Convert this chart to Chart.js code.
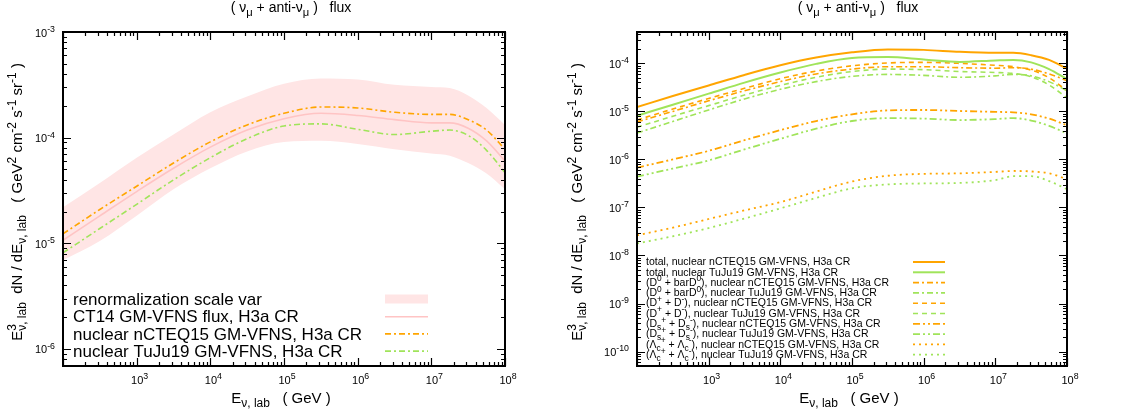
<!DOCTYPE html>
<html><head><meta charset="utf-8">
<script src="https://cdn.jsdelivr.net/npm/chart.js@4.4.1/dist/chart.umd.min.js"></script>
<style>
html,body{margin:0;padding:0;background:#fff;}
#wrap{position:relative;width:1125px;height:420px;overflow:hidden;}
canvas{position:absolute;top:0;}
</style></head><body>
<div id="wrap">
<canvas id="c1" width="560" height="420" style="left:0px"></canvas>
<canvas id="c2" width="565" height="420" style="left:560px"></canvas>
</div>
<script>
// ---------------- data ----------------
const energies = [1e2, 3.16e2, 1e3, 3.16e3, 1e4, 3.16e4, 1e5, 3.16e5, 1e6, 3.16e6, 1e7, 1.78e7, 3.16e7, 5.62e7, 1e8];

// left panel
const bandUpper  = [2.19e-5, 3.72e-5, 6.46e-5, 1.07e-4, 1.74e-4, 2.45e-4, 3.24e-4, 3.63e-4, 3.55e-4, 3.16e-4, 3.02e-4, 2.95e-4, 2.51e-4, 1.91e-4, 1.32e-4];
const bandLower  = [6.92e-6, 1.05e-5, 1.82e-5, 3.24e-5, 5.13e-5, 7.41e-5, 9.12e-5, 9.33e-5, 8.71e-5, 7.76e-5, 7.08e-5, 6.76e-5, 5.75e-5, 4.57e-5, 3.24e-5];
const ct14Central = [1.07e-5, 1.82e-5, 3.09e-5, 5.13e-5, 8.13e-5, 1.18e-4, 1.51e-4, 1.70e-4, 1.62e-4, 1.48e-4, 1.38e-4, 1.38e-4, 1.23e-4, 9.33e-5, 6.03e-5];
const totalNCTEQ15 = [1.23e-5, 2.09e-5, 3.47e-5, 5.75e-5, 9.12e-5, 1.32e-4, 1.70e-4, 1.95e-4, 1.91e-4, 1.74e-4, 1.66e-4, 1.66e-4, 1.48e-4, 1.18e-4, 7.76e-5];
const totalTuJu19  = [8.13e-6, 1.38e-5, 2.34e-5, 3.98e-5, 6.46e-5, 9.77e-5, 1.29e-4, 1.35e-4, 1.20e-4, 1.07e-4, 1.15e-4, 1.18e-4, 1.05e-4, 7.59e-5, 4.68e-5];

// right panel components
const d0NCTEQ15 = [6.03e-6, 1.00e-5, 1.66e-5, 2.69e-5, 4.17e-5, 6.03e-5, 7.59e-5, 8.51e-5, 8.51e-5, 8.13e-5, 7.94e-5, 8.13e-5, 7.59e-5, 6.03e-5, 4.37e-5];
const d0TuJu19  = [3.55e-6, 6.17e-6, 1.07e-5, 1.82e-5, 2.88e-5, 4.17e-5, 5.37e-5, 5.89e-5, 5.62e-5, 5.13e-5, 5.50e-5, 5.89e-5, 5.50e-5, 4.17e-5, 2.69e-5];
const dpNCTEQ15 = [6.61e-6, 1.12e-5, 1.86e-5, 3.02e-5, 4.79e-5, 6.92e-5, 8.91e-5, 1.02e-4, 1.05e-4, 1.00e-4, 9.12e-5, 8.51e-5, 7.24e-5, 5.01e-5, 2.69e-5];
const dpTuJu19  = [4.68e-6, 7.94e-6, 1.32e-5, 2.19e-5, 3.47e-5, 5.13e-5, 6.76e-5, 7.59e-5, 7.41e-5, 6.76e-5, 6.46e-5, 6.17e-5, 5.25e-5, 3.55e-5, 1.91e-5];
const dsNCTEQ15 = [6.76e-7, 1.00e-6, 1.51e-6, 2.51e-6, 4.07e-6, 6.31e-6, 8.71e-6, 1.05e-5, 1.07e-5, 1.02e-5, 9.77e-6, 9.55e-6, 8.71e-6, 7.08e-6, 5.13e-6];
const dsTuJu19  = [4.37e-7, 6.46e-7, 9.55e-7, 1.62e-6, 2.69e-6, 4.37e-6, 6.31e-6, 7.24e-6, 7.08e-6, 6.61e-6, 6.92e-6, 7.24e-6, 6.46e-6, 5.01e-6, 3.47e-6];
const lcNCTEQ15 = [2.63e-8, 3.80e-8, 5.75e-8, 8.71e-8, 1.29e-7, 2.14e-7, 3.47e-7, 4.57e-7, 5.01e-7, 5.13e-7, 5.50e-7, 5.75e-7, 5.62e-7, 5.13e-7, 3.89e-7];
const lcTuJu19  = [1.78e-8, 2.51e-8, 3.72e-8, 5.89e-8, 9.55e-8, 1.58e-7, 2.51e-7, 3.02e-7, 3.16e-7, 3.24e-7, 3.72e-7, 4.47e-7, 4.47e-7, 3.55e-7, 2.40e-7];

// axis ranges and texts
const xRange = [1e2, 1e8];
const xLabelled = [1e3, 1e4, 1e5, 1e6, 1e7, 1e8];
const yRangeLeft = [6.9e-7, 1e-3];
const yRangeRight = [5e-11, 4.5e-4];
const titleText = '( ν_μ + anti-ν_μ )   flux';
const xTitleText = 'E_{ν, lab}   ( GeV )';
const yTitleText = 'E@^3_{ν, lab}  dN / dE_{ν, lab}   ( GeV^2 cm^{-2} s^{-1} sr^{-1} )';

// ---------------- styles ----------------
const ORANGE = '#ffa500';
const GREEN = '#a0e45a';
const PINK = '#ffc4c4';
const BAND = '#ffe5e5';
const DASHDOT = [6, 3, 2, 3];
const DASHED = [5, 4];
const DASHDOTDOT = [7, 3, 2, 3, 2, 3];
const DOTTED = [2, 4];
const FONT = "'Liberation Sans', Arial, Helvetica, sans-serif";

const pts = arr => energies.map((e, i) => ({x: e, y: arr[i]}));

// ---------------- rich text (gnuplot-like ^ _ @) ----------------
function parseRich(s) {
  const parts = []; let buf = ''; let i = 0; let stack = false;
  const flush = () => { if (buf) { parts.push({t: buf, k: 'n'}); buf = ''; } };
  while (i < s.length) {
    const c = s[i];
    if (c === '@') { flush(); stack = true; i++; continue; }
    if (c === '^' || c === '_') {
      flush(); let t;
      if (s[i + 1] === '{') { const j = s.indexOf('}', i + 2); t = s.slice(i + 2, j); i = j + 1; }
      else { t = s[i + 1]; i += 2; }
      parts.push({t, k: c === '^' ? 'sup' : 'sub', stack}); stack = false; continue;
    }
    buf += c; i++;
  }
  flush(); return parts;
}
function drawRich(ctx, str, x, y, size, align) {
  const parts = parseRich(str);
  let cx = 0, pendW = 0, hasPend = false;
  const placed = [];
  for (const p of parts) {
    const s = p.k === 'n' ? size : size * 0.8;
    ctx.font = s + 'px ' + FONT;
    const w = ctx.measureText(p.t).width;
    const dy = p.k === 'sup' ? -size * 0.42 : (p.k === 'sub' ? size * 0.28 : 0);
    if (p.stack) { placed.push({t: p.t, s, x: cx, dy}); pendW = w; hasPend = true; continue; }
    placed.push({t: p.t, s, x: cx, dy});
    if (hasPend) { cx += Math.max(pendW, w); hasPend = false; } else cx += w;
  }
  if (hasPend) cx += pendW;
  const x0 = align === 'center' ? x - cx / 2 : (align === 'right' ? x - cx : x);
  ctx.textAlign = 'left'; ctx.textBaseline = 'alphabetic';
  for (const p of placed) { ctx.font = p.s + 'px ' + FONT; ctx.fillText(p.t, x0 + p.x, y + p.dy); }
}

// ---------------- gnuplot-like frame plugin ----------------
function logTicks(min, max) {
  const out = [];
  for (let e = Math.floor(Math.log10(min)); e <= Math.ceil(Math.log10(max)); e++) {
    for (let m = 1; m <= 9; m++) {
      const v = m * Math.pow(10, e);
      if (v >= min * 0.999 && v <= max * 1.001) out.push({v, e, major: m === 1});
    }
  }
  return out;
}
const gpPlugin = {
  id: 'gp',
  afterDraw(chart, args, o) {
    const ctx = chart.ctx, a = chart.chartArea, xs = chart.scales.x, ys = chart.scales.y;
    ctx.save();
    ctx.setLineDash([]);
    ctx.strokeStyle = '#000'; ctx.lineWidth = 1.2;
    ctx.beginPath();
    const xt = logTicks(xs.min, xs.max), yt = logTicks(ys.min, ys.max);
    for (const t of xt) {
      const p = Math.round(xs.getPixelForValue(t.v)) + 0.5, L = t.major ? 8 : 4;
      ctx.moveTo(p, a.bottom); ctx.lineTo(p, a.bottom - L);
      ctx.moveTo(p, a.top); ctx.lineTo(p, a.top + L);
    }
    for (const t of yt) {
      const p = Math.round(ys.getPixelForValue(t.v)) + 0.5, L = t.major ? 8 : 4;
      ctx.moveTo(a.left, p); ctx.lineTo(a.left + L, p);
      ctx.moveTo(a.right, p); ctx.lineTo(a.right - L, p);
    }
    ctx.stroke();
    ctx.lineWidth = 2;
    ctx.strokeRect(a.left, a.top, a.right - a.left, a.bottom - a.top);
    ctx.fillStyle = '#000';
    for (const v of xLabelled) drawRich(ctx, '10^{' + Math.round(Math.log10(v)) + '}', xs.getPixelForValue(v) + 3, a.bottom + 18, 11, 'center');
    for (const t of yt) if (t.major) drawRich(ctx, '10^{' + t.e + '}', a.left - 8, ys.getPixelForValue(t.v) + 4.5, 11, 'right');
    drawRich(ctx, titleText, o.titleX, o.titleY, 14, 'center');
    drawRich(ctx, xTitleText, o.xTitleX, o.xTitleY, 15, 'center');
    ctx.save(); ctx.translate(o.yTitleX, o.yTitleY); ctx.rotate(-Math.PI / 2);
    drawRich(ctx, yTitleText, 0, 0, 15, 'center'); ctx.restore();
    // key
    const L = o.legend; let row = 0;
    chart.data.datasets.forEach(ds => {
      if (!ds.label) return;
      const yc = L.y0 + row * L.dy; row++;
      ctx.fillStyle = '#000';
      drawRich(ctx, ds.label, L.textX, yc + L.size * 0.36, L.size, 'left');
      if (ds.fill) {
        ctx.fillStyle = ds.backgroundColor;
        ctx.fillRect(L.x0, yc - 4.5, L.x1 - L.x0, 9);
      } else {
        ctx.strokeStyle = ds.borderColor; ctx.lineWidth = ds.borderWidth;
        ctx.setLineDash(ds.borderDash || []);
        ctx.beginPath(); ctx.moveTo(L.x0, yc + 0.5); ctx.lineTo(L.x1, yc + 0.5); ctx.stroke();
        ctx.setLineDash([]);
      }
    });
    ctx.restore();
  }
};

function line(label, arr, color, dash, width) {
  return {label, data: pts(arr), borderColor: color, borderDash: dash, borderWidth: width,
    pointRadius: 0, fill: false, cubicInterpolationMode: 'monotone'};
}

function makeOptions(yRange, pad, yWidth, gp) {
  return {
    responsive: false, animation: false, devicePixelRatio: 1,
    layout: {padding: {top: 32, right: pad, left: 0, bottom: 0}},
    plugins: {legend: {display: false}, tooltip: {enabled: false}, filler: {drawTime: 'beforeDatasetsDraw'}, gp},
    scales: {
      x: {type: 'logarithmic', min: xRange[0], max: xRange[1], ticks: {display: false}, grid: {display: false}, border: {display: false},
          afterFit: s => { s.height = 54; }},
      y: {type: 'logarithmic', min: yRange[0], max: yRange[1], ticks: {display: false}, grid: {display: false}, border: {display: false},
          afterFit: s => { s.width = yWidth; }}
    }
  };
}

// ---------------- left chart ----------------
new Chart(document.getElementById('c1'), {
  type: 'line',
  data: {datasets: [
    {label: 'renormalization scale var', data: pts(bandUpper), borderWidth: 0, pointRadius: 0, fill: '+1', backgroundColor: BAND, borderColor: BAND, cubicInterpolationMode: 'monotone'},
    {label: '', data: pts(bandLower), borderWidth: 0, pointRadius: 0, fill: false, borderColor: BAND, cubicInterpolationMode: 'monotone'},
    line('CT14 GM-VFNS flux, H3a CR', ct14Central, PINK, [], 1.6),
    line('nuclear nCTEQ15 GM-VFNS, H3a CR', totalNCTEQ15, ORANGE, DASHDOT, 1.6),
    line('nuclear TuJu19 GM-VFNS, H3a CR', totalTuJu19, GREEN, DASHDOT, 1.6)
  ]},
  options: makeOptions(yRangeLeft, 55, 63, {
    titleX: 291, titleY: 12, xTitleX: 281, xTitleY: 403, yTitleX: 22, yTitleY: 202,
    legend: {textX: 73, y0: 299, dy: 17.2, size: 17, x0: 385, x1: 428}
  }),
  plugins: [gpPlugin]
});

// ---------------- right chart ----------------
new Chart(document.getElementById('c2'), {
  type: 'line',
  data: {datasets: [
    line('total, nuclear nCTEQ15 GM-VFNS, H3a CR', totalNCTEQ15, ORANGE, [], 2),
    line('total, nuclear TuJu19 GM-VFNS, H3a CR', totalTuJu19, GREEN, [], 2),
    line('(D^0 + barD^0), nuclear nCTEQ15 GM-VFNS, H3a CR', d0NCTEQ15, ORANGE, DASHDOT, 1.6),
    line('(D^0 + barD^0), nuclear TuJu19 GM-VFNS, H3a CR', d0TuJu19, GREEN, DASHDOT, 1.6),
    line('(D^+ + D^-), nuclear nCTEQ15 GM-VFNS, H3a CR', dpNCTEQ15, ORANGE, DASHED, 1.6),
    line('(D^+ + D^-), nuclear TuJu19 GM-VFNS, H3a CR', dpTuJu19, GREEN, DASHED, 1.6),
    line('(D_s^+ + D_s^-), nuclear nCTEQ15 GM-VFNS, H3a CR', dsNCTEQ15, ORANGE, DASHDOTDOT, 1.8),
    line('(D_s^+ + D_s^-), nuclear TuJu19 GM-VFNS, H3a CR', dsTuJu19, GREEN, DASHDOTDOT, 1.8),
    line('(Λ_c^+ + Λ_c^-), nuclear nCTEQ15 GM-VFNS, H3a CR', lcNCTEQ15, ORANGE, DOTTED, 1.8),
    line('(Λ_c^+ + Λ_c^-), nuclear TuJu19 GM-VFNS, H3a CR', lcTuJu19, GREEN, DOTTED, 1.8)
  ]},
  options: makeOptions(yRangeRight, 58, 77, {
    titleX: 298, titleY: 12, xTitleX: 289, xTitleY: 403, yTitleX: 22, yTitleY: 202,
    legend: {textX: 86, y0: 261.5, dy: 10.3, size: 10.5, x0: 353, x1: 385}
  }),
  plugins: [gpPlugin]
});
</script>
</body></html>
